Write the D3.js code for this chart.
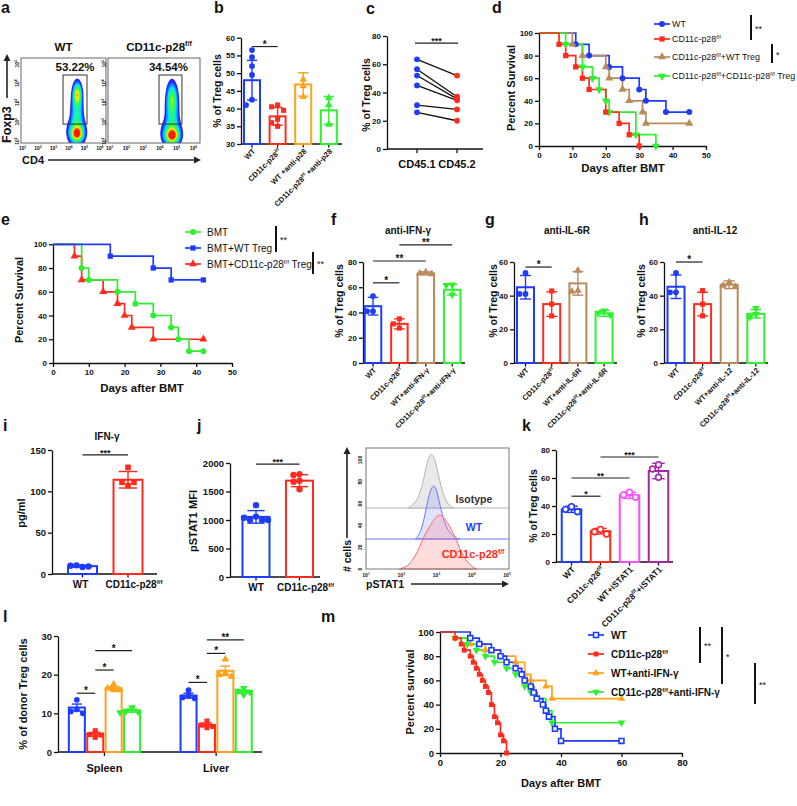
<!DOCTYPE html>
<html>
<head>
<meta charset="utf-8">
<script src="https://cdn.jsdelivr.net/npm/d3@7"></script>
<style>
  body { margin: 0; background: #fff; }
</style>
</head>
<body>
<svg id="fig" width="797" height="806"></svg>
<script>
const FONT = "'Liberation Sans', Arial, Helvetica, sans-serif";
const BLUE = "#1e3cff", RED = "#ff2c1e", ORANGE = "#ffa21c", GREEN = "#2ef02e",
      BROWN = "#b98a5c", MAG = "#ff4cff", PURP = "#a626a6", INK = "#111";

// ================= data =================
// a: flow plots (log10 units)
const flowTitles = ["WT", "CD11c-p28^{f/f}"];
const flowPct = ["53.22%", "34.54%"];
const flowDecades = [1, 2, 3, 4, 5, 6];
const flowYDecades = [1, 2, 3, 4, 5];
const flowGates = [[3.62, 5.17, 1.88, 4.42], [3.95, 5.32, 1.88, 4.42]];
// populations: [cd4, foxp3, sd cd4, sd foxp3, weight]
const flowPopsWT = [[4.52, 1.4, 0.2, 0.2, 1], [4.55, 3.4, 0.14, 0.3, 0.62], [4.52, 2.5, 0.21, 0.75, 0.25], [4.5, 1.5, 0.32, 0.4, 0.25]];
const flowPopsKO = [[4.73, 1.3, 0.2, 0.2, 1], [4.73, 3.2, 0.16, 0.4, 0.3], [4.73, 2.4, 0.21, 0.8, 0.25], [4.7, 1.4, 0.32, 0.4, 0.25]];

// b
const bNames = ["WT", "CD11c-p28^{f/f}", "WT +anti-p28", "CD11c-p28^{f/f} +anti-p28"];
const bMeans = [48, 37.8, 46.8, 39.5];
const bErr = [5.6, 2.5, 3.3, 3.9];
const bPts = [[56.5, 54.5, 52, 49.5, 42.5, 41], [41, 40.5, 39.5, 37, 36, 35], [48.2, 46.4, 43.3], [43, 41, 35.5]];
const bSig = [[0, 1, 57.5, "*"]];

// c
const cGroups = ["CD45.1", "CD45.2"];
const c451 = [63.5, 56.5, 52, 45, 31, 26];
const c452 = [52, 37, 35.5, 34.5, 28, 20];

// d  (day, % survival)
const dLegend = ["WT", "CD11c-p28^{f/f}", "CD11c-p28^{f/f}+WT Treg", "CD11c-p28^{f/f}+CD11c-p28^{f/f} Treg"];
const dWT = [[0, 100], [11, 90], [15, 80], [21, 70], [25, 60], [30, 50], [32, 40], [38, 30], [45, 30]];
const dKO = [[0, 100], [6, 90], [8, 80], [11, 70], [13, 60], [15, 50], [20, 30], [24, 20], [27, 10], [30, 0]];
const dWTTreg = [[0, 100], [10, 90], [13, 80], [20, 70], [21, 60], [25, 50], [27, 40], [31, 30], [32, 20], [45, 20]];
const dKOTreg = [[0, 100], [8, 90], [13, 70], [16, 60], [18, 50], [20, 40], [21, 30], [29, 10], [35, 0]];

// e
const eLegend = ["BMT", "BMT+WT Treg", "BMT+CD11c-p28^{f/f} Treg"];
const eBMT = [[0, 100], [8, 80], [10, 70], [18, 60], [23, 50], [28, 40], [33, 30], [35, 20], [38, 10], [42, 10]];
const eWTTreg = [[0, 100], [16, 90], [28, 80], [33, 70], [42, 70]];
const eKOTreg = [[0, 100], [6, 90], [8, 70], [14, 60], [18, 50], [20, 40], [22, 30], [28, 20], [42, 20]];

// f
const fNames = ["WT", "CD11c-p28^{f/f}", "WT+anti-IFN-γ", "CD11c-p28^{f/f}+anti-IFN-γ"];
const fMeans = [45, 31, 71, 58];
const fErr = [7, 4, 1.2, 4.2];
const fPts = [[53, 41, 41], [35, 31, 27.7], [72, 71, 70.5], [62, 61.5, 54]];
const fSig = [[0, 1, 63.5, "*"], [0, 2, 80.8, "**"], [1, 3, 93.5, "**"]];

// g
const gNames = ["WT", "CD11c-p28^{f/f}", "WT+anti-IL-6R", "CD11c-p28^{f/f}+anti-IL-6R"];
const gMeans = [45, 35, 47.3, 29.5];
const gErr = [7, 7.3, 7, 1.8];
const gPts = [[53.5, 41, 41], [42.8, 35, 28], [55, 43, 42.5], [31, 29.7, 28.5]];
const gSig = [[0, 1, 57, "*"]];

// h
const hNames = ["WT", "CD11c-p28^{f/f}", "WT+anti-IL-12", "CD11c-p28^{f/f}+anti-IL-12"];
const hMeans = [45.3, 35, 46.5, 29.2];
const hErr = [7, 7, 2.3, 2.5];
const hPts = [[53.5, 42, 42], [43, 35, 28], [48, 46, 45.3], [32.5, 29, 27.2]];
const hSig = [[0, 1, 60, "*"]];

// i
const iNames = ["WT", "CD11c-p28^{f/f}"];
const iMeans = [9.5, 114];
const iErr = [1, 10];
const iPts = [[8.5, 10.5, 9, 10], [107, 129, 111, 111]];

// j
const jNames = ["WT", "CD11c-p28^{f/f}"];
const jMeans = [1055, 1690];
const jErr = [110, 105];
const jPts = [[1260, 1060, 1000, 1000, 1040, 1000], [1805, 1790, 1690, 1670, 1540]];

// histogram (log10 pSTAT1, normalised count)
const histLabels = ["Isotype", "WT", "CD11c-p28^{f/f}"];
const histOffsets = [56, 27.5, 0];
const histIso = [[2.2, 0], [2.35, 3], [2.5, 10], [2.62, 24], [2.72, 40], [2.8, 48], [2.86, 50], [2.93, 47], [3.02, 36], [3.12, 20], [3.25, 7], [3.4, 1], [3.5, 0]];
const histWT = [[2.4, 0], [2.52, 4], [2.62, 14], [2.72, 30], [2.82, 45], [2.92, 50], [3.0, 46], [3.1, 31], [3.22, 15], [3.38, 5], [3.55, 1], [3.65, 0]];
const histKO = [[1.95, 0], [2.15, 2], [2.3, 7], [2.45, 15], [2.6, 27], [2.75, 36], [2.9, 44], [3.02, 49], [3.1, 50], [3.22, 47], [3.4, 38], [3.57, 26], [3.72, 14], [3.88, 6], [4.05, 1], [4.15, 0]];
const histDecades = [1, 2, 3, 4, 5];

// k
const kNames = ["WT", "CD11c-p28^{f/f}", "WT+iSTAT1", "CD11c-p28^{f/f}+iSTAT1"];
const kMeans = [37.6, 22, 47.6, 65];
const kErr = [2.2, 2, 2.2, 5.5];
const kPts = [[39.5, 37.6, 35.9], [23.3, 21.6, 20], [49.8, 47.9, 46.2], [69.5, 66.4, 60.5]];
const kSig = [[0, 1, 47, "*"], [0, 2, 60, "**"], [1, 3, 75, "***"]];

// l
const lTissues = ["Spleen", "Liver"];
const lConds = ["WT", "KO", "WT+IFN", "KO+IFN"];
const lMeans = [[11.5, 4.6, 16.5, 10.7], [14.6, 7, 21, 15.6]];
const lErr = [[0.9, 0.5, 0.4, 0.4], [0.6, 0.5, 1.2, 0.4]];
const lPts = [[[13.5, 11, 10.5, 10], [5.5, 4.5, 4.4, 3.8], [17.5, 16.5, 16, 16], [11.5, 10.6, 10.4, 10.2]],
              [[16, 14.5, 14.1, 13.9], [8, 7, 6.6, 6.3], [24, 20.5, 20, 19.5], [16.5, 15.8, 15.5, 14.8]]];
const lSig = [[0, 0, 1, 15.2, "*"], [0, 1, 2, 21.2, "*"], [0, 1, 3, 26.2, "*"], [1, 0, 1, 18, "*"], [1, 1, 2, 25.5, "*"], [1, 1, 3, 29, "**"]];

// m
const mLegend = ["WT", "CD11c-p28^{f/f}", "WT+anti-IFN-γ", "CD11c-p28^{f/f}+anti-IFN-γ"];
const mWT = [[0, 100], [10, 95], [13, 90], [17, 85], [20, 80], [22, 75], [25, 70], [27, 65], [28, 60], [30, 55], [31, 50], [32, 45], [34, 40], [35, 35], [36, 30], [38, 20], [40, 10], [60, 10]];
const mKO = [[0, 100], [5, 95], [7, 90], [8, 85], [10, 80], [11, 75], [12, 70], [13, 65], [14, 60], [15, 55], [16, 50], [17, 40], [18, 30], [19, 25], [20, 15], [21, 10], [22, 0]];
const mWTIFN = [[0, 100], [5, 95], [10, 90], [15, 85], [20, 80], [25, 75], [28, 65], [30, 60], [35, 55], [37, 45], [60, 45]];
const mKOIFN = [[0, 100], [5, 95], [9, 90], [12, 85], [15, 80], [18, 75], [22, 70], [25, 65], [28, 55], [30, 50], [32, 45], [35, 35], [37, 25], [60, 25]];

// ================= helpers =================
const svg = d3.select("#fig").attr("font-family", FONT);

// text with ^{..} superscripts
function rich(t, s, size) {
  const parts = s.split(/\^\{([^}]*)\}/);
  let prevSup = false;
  parts.forEach((p, i) => {
    if (p === "") return;
    const ts = t.append("tspan").text(p);
    if (i % 2 === 1) {
      ts.attr("font-size", size * 0.62).attr("dy", -size * 0.4);
      prevSup = true;
    } else if (prevSup) {
      ts.attr("dy", size * 0.4);
      prevSup = false;
    }
  });
}

function txt(g, x, y, s, o = {}) {
  const size = o.size || 10;
  const t = g.append("text").attr("x", x).attr("y", y).attr("font-size", size)
    .attr("font-weight", o.weight || "bold").attr("text-anchor", o.anchor || "start")
    .attr("fill", o.fill || INK);
  if (o.rotate) t.attr("transform", `rotate(${o.rotate},${x},${y})`);
  if (o.dy) t.attr("dy", o.dy);
  rich(t, s, size);
  return t;
}

function plabel(x, y, s) { txt(svg, x, y, s, { size: 16 }); }

function styleAxis(a, fs) {
  a.attr("font-family", FONT).attr("font-size", fs).attr("font-weight", "bold");
  a.selectAll("path,line").attr("stroke", INK).attr("stroke-width", 1.3);
  a.selectAll("text").attr("fill", INK);
}

function arrow(x1, y1, x2, y2, head = 7, hw = 3.5) {
  const a = Math.atan2(y2 - y1, x2 - x1), c = Math.cos(a), s = Math.sin(a);
  svg.append("line").attr("x1", x1).attr("y1", y1).attr("x2", x2 - c * head).attr("y2", y2 - s * head)
    .attr("stroke", "#222").attr("stroke-width", 1.6);
  const bx = x2 - c * head, by = y2 - s * head;
  svg.append("path").attr("d", `M${x2},${y2}L${bx - s * hw},${by + c * hw}L${bx + s * hw},${by - c * hw}Z`).attr("fill", "#222");
}

const SYM = { circle: d3.symbolCircle, square: d3.symbolSquare, tri: d3.symbolTriangle, triDown: d3.symbolTriangle };
function drawSym(g, shape, x, y, color, size, open) {
  g.append("path").attr("d", d3.symbol(SYM[shape], size)())
    .attr("transform", `translate(${x},${y})` + (shape === "triDown" ? " rotate(180)" : ""))
    .attr("fill", open ? "#fff" : color).attr("stroke", color).attr("stroke-width", open ? 1.6 : 0);
}

// simple deterministic swarm of points in a column
function swarm(ys, r) {
  const placed = [];
  return ys.map(py => {
    for (const c of [0, -1, 1, -2, 2, -3, 3]) {
      const px = c * 2 * r;
      if (placed.every(p => Math.hypot(p[0] - px, p[1] - py) >= 2 * r - 0.5)) { placed.push([px, py]); return px; }
    }
    return 0;
  });
}

function sigLine(g, x1, x2, y, label, fs = 10) {
  g.append("line").attr("x1", x1).attr("x2", x2).attr("y1", y).attr("y2", y).attr("stroke", "#222").attr("stroke-width", 1.2);
  txt(g, (x1 + x2) / 2, y + 1, label, { size: fs, anchor: "middle" });
}

function drawBar(g, cx, bw, y, mean, err, pts, color, shape, o = {}) {
  const y0 = y.range()[0];
  g.append("rect").attr("x", cx - bw / 2).attr("y", y(mean)).attr("width", bw).attr("height", y0 - y(mean))
    .attr("fill", "#fff").attr("stroke", color).attr("stroke-width", o.sw || 2);
  const cap = bw * 0.32;
  const eg = g.append("g").attr("stroke", color).attr("stroke-width", 1.4);
  eg.append("line").attr("x1", cx).attr("x2", cx).attr("y1", y(mean - err)).attr("y2", y(mean + err));
  [mean - err, mean + err].forEach(v => eg.append("line").attr("x1", cx - cap).attr("x2", cx + cap).attr("y1", y(v)).attr("y2", y(v)));
  const r = o.r || 3;
  const ys = pts.map(v => y(v));
  const offs = swarm(ys, r);
  ys.forEach((py, k) => drawSym(g, shape, cx + offs[k], py, color, o.size || 26, o.open));
}

function barPanel(cfg) {
  const g = svg.append("g");
  const n = cfg.names.length;
  const p = 1 - cfg.bw / cfg.step;
  const x = d3.scaleBand().domain(d3.range(n))
    .range([cfg.c0 - cfg.step / 2, cfg.c0 - cfg.step / 2 + n * cfg.step])
    .paddingInner(p).paddingOuter(p / 2);
  const cx = i => x(i) + x.bandwidth() / 2;
  const y = d3.scaleLinear().domain(cfg.domain).range(cfg.yRange);
  const y0 = cfg.yRange[0];
  const ya = g.append("g").attr("transform", `translate(${cfg.axisX},0)`)
    .call(d3.axisLeft(y).tickValues(cfg.ticks).tickSize(4).tickSizeOuter(0).tickPadding(2).tickFormat(d3.format("d")));
  styleAxis(ya, cfg.fs || 8);
  g.append("line").attr("x1", cfg.axisX).attr("x2", cfg.axisEnd).attr("y1", y0).attr("y2", y0).attr("stroke", INK).attr("stroke-width", 1.3);
  d3.range(n).forEach(i => g.append("line").attr("x1", cx(i)).attr("x2", cx(i)).attr("y1", y0).attr("y2", y0 + 3.5).attr("stroke", INK).attr("stroke-width", 1.3));
  d3.range(n).forEach(i => drawBar(g, cx(i), x.bandwidth(), y, cfg.means[i], cfg.errs[i], cfg.pts[i], cfg.colors[i], cfg.shapes[i], cfg.barOpt || {}));
  (cfg.sig || []).forEach(s => sigLine(g, cx(s[0]), cx(s[1]), y(s[2]), s[3], cfg.sigFs || 10));
  if (cfg.rot) {
    cfg.names.forEach((s, i) => txt(g, cx(i) + 2, y0 + 6, s, { size: cfg.lfs || 7.5, anchor: "end", rotate: -45, dy: "0.35em" }));
  } else {
    cfg.names.forEach((s, i) => txt(g, cx(i) + (cfg.lshift ? cfg.lshift[i] : 0), y0 + 14, s, { size: cfg.lfs || 10, anchor: "middle" }));
  }
  if (cfg.ylab) txt(g, cfg.ylab[0], cfg.ylab[1], cfg.ylab[2], { size: cfg.ylab[3] || 10.5, anchor: "middle", rotate: -90 });
  if (cfg.title) txt(g, cfg.title[0], cfg.title[1], cfg.title[2], { size: 10, anchor: "middle" });
  return { x, y, cx };
}

function kmPanel(cfg) {
  const g = svg.append("g");
  const { x, y } = cfg;
  const ya = g.append("g").attr("transform", `translate(${x.range()[0]},0)`)
    .call(d3.axisLeft(y).tickValues(cfg.yTicks).tickSize(4).tickSizeOuter(0).tickPadding(2));
  const xa = g.append("g").attr("transform", `translate(0,${y.range()[0]})`)
    .call(d3.axisBottom(x).tickValues(cfg.xTicks).tickSize(4).tickSizeOuter(0).tickPadding(2));
  styleAxis(ya, cfg.fs); styleAxis(xa, cfg.fs);
  const line = d3.line().x(d => x(d[0])).y(d => y(d[1])).curve(d3.curveStepAfter);
  cfg.series.forEach(s => {
    g.append("path").attr("d", line(s.data)).attr("fill", "none").attr("stroke", s.color).attr("stroke-width", 1.7);
  });
  cfg.series.forEach(s => {
    s.data.slice(1).forEach(d => drawSym(g, s.shape, x(d[0]), y(d[1]), s.color, cfg.ms || 28, s.open));
  });
  // legend
  const L = cfg.legend;
  cfg.series.forEach((s, i) => {
    const yy = L.ys[i];
    g.append("line").attr("x1", L.x0).attr("x2", L.x1).attr("y1", yy).attr("y2", yy).attr("stroke", s.color).attr("stroke-width", 1.7);
    drawSym(g, s.shape, (L.x0 + L.x1) / 2, yy, s.color, cfg.ms || 28, s.open);
    txt(g, L.tx, yy, L.labels[i], { size: L.fs, weight: L.weight || "normal", dy: "0.36em" });
  });
  return g;
}

function vbar(x, y1, y2, label, fs = 9) {
  svg.append("line").attr("x1", x).attr("x2", x).attr("y1", y1).attr("y2", y2).attr("stroke", "#111").attr("stroke-width", 2);
  txt(svg, x + 4, (y1 + y2) / 2 + 4, label, { size: fs, weight: "normal" });
}

// ================= a =================
plabel(1, 13, "a");
function flowPlot(i, bx0, bx1, pops) {
  const by0 = 58, by1 = 143;
  const g = svg.append("g");
  const xs = d3.scaleLinear().domain([0.9, 6.4]).range([bx0, bx1]);
  const ys = d3.scaleLinear().domain([0.9, 5.3]).range([by1, by0]);
  const w = Math.round(bx1 - bx0), h = by1 - by0;
  const vals = new Float64Array(w * h);
  for (let r = 0; r < h; r++) for (let c = 0; c < w; c++) {
    const lx = xs.invert(bx0 + c + 0.5), ly = ys.invert(by0 + r + 0.5);
    let v = 0;
    pops.forEach(p => { v += p[4] * Math.exp(-0.5 * ((lx - p[0]) / p[2]) ** 2 - 0.5 * ((ly - p[1]) / p[3]) ** 2); });
    vals[c + r * w] = v;
  }
  const th = [0.03, 0.07, 0.13, 0.21, 0.3, 0.42, 0.56, 0.7, 0.85];
  const jet = d3.scaleLinear().domain([0, 0.25, 0.5, 0.75, 1]).range(["#2424ff", "#00e0ff", "#3cff3c", "#ffee00", "#ff1a00"]);
  const cont = d3.contours().size([w, h]).thresholds(th)(Array.from(vals));
  g.append("g").attr("transform", `translate(${bx0},${by0})`)
    .selectAll("path").data(cont).join("path")
    .attr("d", d3.geoPath()).attr("fill", (d, k) => jet(k / (th.length - 1)));
  g.append("rect").attr("x", bx0).attr("y", by0).attr("width", bx1 - bx0).attr("height", h)
    .attr("fill", "none").attr("stroke", "#666").attr("stroke-width", 1);
  const gt = flowGates[i];
  g.append("rect").attr("x", xs(gt[0])).attr("y", ys(gt[3])).attr("width", xs(gt[1]) - xs(gt[0]))
    .attr("height", ys(gt[2]) - ys(gt[3])).attr("fill", "none").attr("stroke", "#333").attr("stroke-width", 1);
  flowDecades.forEach(e => txt(g, xs(e), 150, "10^{" + e + "}", { size: 5, anchor: "middle" }));
  flowYDecades.forEach(e => txt(g, bx0 - 2, ys(e), "10^{" + e + "}", { size: 5, anchor: "middle", rotate: -90 }));
  txt(g, (bx0 + bx1) / 2 + (i ? 5 : 0), 51, flowTitles[i], { size: 11.5, anchor: "middle" });
  txt(g, (xs(gt[0]) + xs(gt[1])) / 2 + (i ? -2 : 0), 71, flowPct[i], { size: 11.5, anchor: "middle" });
}
flowPlot(0, 21, 106, flowPopsWT);
flowPlot(1, 108, 200, flowPopsKO);
txt(svg, 10.5, 143, "Foxp3", { size: 12.5, rotate: -90 });
arrow(7, 98, 7, 54);
txt(svg, 22, 164, "CD4", { size: 11 });
arrow(48, 160, 201, 160);

// ================= b =================
plabel(214, 13, "b");
barPanel({
  names: bNames, means: bMeans, errs: bErr, pts: bPts,
  colors: [BLUE, RED, ORANGE, GREEN], shapes: ["circle", "square", "tri", "tri"],
  c0: 252, step: 25.6, bw: 16, axisX: 241, axisEnd: 342,
  domain: [30, 60], yRange: [144, 37.7], ticks: d3.range(30, 61, 5),
  sig: bSig, rot: true, lfs: 7.5, ylab: [221, 91, "% of Treg cells"]
});

// ================= c =================
plabel(366, 14, "c");
{
  const g = svg.append("g");
  const y = d3.scaleLinear().domain([0, 80]).range([149, 36]);
  const x = d3.scalePoint().domain(cGroups).range([397, 477]).padding(0.5);
  const ya = g.append("g").attr("transform", "translate(387,0)")
    .call(d3.axisLeft(y).tickValues([0, 20, 40, 60, 80]).tickSize(4).tickSizeOuter(0).tickPadding(2));
  styleAxis(ya, 8);
  g.append("line").attr("x1", 387).attr("x2", 483).attr("y1", 149).attr("y2", 149).attr("stroke", INK).attr("stroke-width", 1.3);
  cGroups.forEach(c => g.append("line").attr("x1", x(c)).attr("x2", x(c)).attr("y1", 149).attr("y2", 153).attr("stroke", INK).attr("stroke-width", 1.3));
  c451.forEach((v, k) => g.append("line").attr("x1", x("CD45.1")).attr("x2", x("CD45.2"))
    .attr("y1", y(v)).attr("y2", y(c452[k])).attr("stroke", "#111").attr("stroke-width", 1.3));
  c451.forEach(v => drawSym(g, "circle", x("CD45.1"), y(v), BLUE, 26));
  c452.forEach(v => drawSym(g, "circle", x("CD45.2"), y(v), RED, 26));
  cGroups.forEach(c => txt(g, x(c), 167.5, c, { size: 11, anchor: "middle" }));
  sigLine(g, x("CD45.1") - 2, x("CD45.2") + 1, y(75), "***", 9);
  txt(g, 370, 95, "% of Treg cells", { size: 10.5, anchor: "middle", rotate: -90 });
}

// ================= d =================
plabel(492, 13, "d");
kmPanel({
  x: d3.scaleLinear().domain([0, 50]).range([539, 706]),
  y: d3.scaleLinear().domain([0, 100]).range([146, 33]),
  xTicks: [0, 10, 20, 30, 40, 50], yTicks: [0, 20, 40, 60, 80, 100], fs: 8,
  series: [
    { data: dWT, color: BLUE, shape: "circle" },
    { data: dWTTreg, color: BROWN, shape: "tri" },
    { data: dKOTreg, color: GREEN, shape: "triDown" },
    { data: dKO, color: RED, shape: "square" }
  ],
  legend: { x0: 654, x1: 670, tx: 672, ys: [24, 57, 76, 39], fs: 8.9,
    labels: [dLegend[0], dLegend[2], dLegend[3], dLegend[1]] }
});
txt(svg, 623, 172, "Days after BMT", { size: 11.5, anchor: "middle" });
txt(svg, 515, 88, "Percent Survival", { size: 11, anchor: "middle", rotate: -90 });
vbar(751, 15, 40, "**");
vbar(772, 44, 63, "*");

// ================= e =================
plabel(1, 225, "e");
kmPanel({
  x: d3.scaleLinear().domain([0, 50]).range([53, 232]),
  y: d3.scaleLinear().domain([0, 100]).range([363, 244.3]),
  xTicks: [0, 10, 20, 30, 40, 50], yTicks: [0, 20, 40, 60, 80, 100], fs: 8,
  series: [
    { data: eKOTreg, color: RED, shape: "tri" },
    { data: eBMT, color: GREEN, shape: "circle" },
    { data: eWTTreg, color: BLUE, shape: "square" }
  ],
  legend: { x0: 185, x1: 201, tx: 207, ys: [264, 232, 248], fs: 10,
    labels: [eLegend[2], eLegend[0], eLegend[1]] }
});
txt(svg, 142, 392, "Days after BMT", { size: 11.5, anchor: "middle" });
txt(svg, 23, 300, "Percent Survival", { size: 11, anchor: "middle", rotate: -90 });
vbar(276, 226, 252, "**");
vbar(313, 252, 274, "**");

// ================= f, g, h =================
plabel(331, 225, "f");
barPanel({
  names: fNames, means: fMeans, errs: fErr, pts: fPts,
  colors: [BLUE, RED, BROWN, GREEN], shapes: ["circle", "square", "tri", "triDown"],
  c0: 373, step: 26.4, bw: 16.5, axisX: 363, axisEnd: 465,
  domain: [0, 80], yRange: [363, 262], ticks: [0, 20, 40, 60, 80],
  sig: fSig, rot: true, lfs: 7.5, ylab: [343, 301, "% of Treg cells"],
  title: [408, 234, "anti-IFN-γ"]
});
plabel(485, 225, "g");
barPanel({
  names: gNames, means: gMeans, errs: gErr, pts: gPts,
  colors: [BLUE, RED, BROWN, GREEN], shapes: ["circle", "square", "tri", "triDown"],
  c0: 525.5, step: 26.2, bw: 17, axisX: 514, axisEnd: 617,
  domain: [0, 60], yRange: [363, 262], ticks: [0, 20, 40, 60],
  sig: gSig, rot: true, lfs: 7.5, ylab: [497, 301, "% of Treg cells"],
  title: [567, 234, "anti-IL-6R"]
});
plabel(639, 225, "h");
barPanel({
  names: hNames, means: hMeans, errs: hErr, pts: hPts,
  colors: [BLUE, RED, BROWN, GREEN], shapes: ["circle", "square", "tri", "triDown"],
  c0: 676, step: 26.6, bw: 17, axisX: 664, axisEnd: 768,
  domain: [0, 60], yRange: [363, 262], ticks: [0, 20, 40, 60],
  sig: hSig, rot: true, lfs: 7.5, ylab: [645, 301, "% of Treg cells"],
  title: [715, 234, "anti-IL-12"]
});

// ================= i, j =================
plabel(3, 431, "i");
barPanel({
  names: iNames, means: iMeans, errs: iErr, pts: iPts,
  colors: [BLUE, RED], shapes: ["circle", "square"],
  c0: 82.5, step: 45.5, bw: 29, axisX: 52, axisEnd: 157,
  domain: [0, 150], yRange: [574, 450], ticks: [0, 50, 100, 150], fs: 9.5,
  sig: [[0, 1, 144, "***"]], sigFs: 9, lfs: 10, lshift: [-2, 6],
  ylab: [25, 513, "pg/ml", 11], title: [107, 440, "IFN-γ"], barOpt: { size: 32 }
});
plabel(197, 431, "j");
barPanel({
  names: jNames, means: jMeans, errs: jErr, pts: jPts,
  colors: [BLUE, RED], shapes: ["circle", "circle"],
  c0: 256, step: 43.5, bw: 27, axisX: 230, axisEnd: 320,
  domain: [0, 2000], yRange: [577, 463], ticks: [0, 500, 1000, 1500, 2000], fs: 9.5,
  sig: [[0, 1, 1982, "***"]], sigFs: 9, lfs: 10, lshift: [0, 6],
  ylab: [197, 521, "pSTAT1 MFI", 11], barOpt: { size: 32 }
});

// ================= histogram =================
{
  const g = svg.append("g");
  const hx = d3.scaleLinear().domain([1, 5]).range([366, 507]);
  const hy = d3.scaleLinear().domain([0, 100]).range([569, 460]);
  const series = [histIso, histWT, histKO];
  const fills = ["#e9e9e9", "rgba(120,130,255,0.22)", "rgba(255,120,120,0.25)"];
  const strokes = ["#b4b4b4", "#6b78ff", "#ff6666"];
  series.forEach((s, k) => {
    const off = histOffsets[k];
    if (off > 0) g.append("line").attr("x1", 366).attr("x2", 509).attr("y1", hy(off)).attr("y2", hy(off)).attr("stroke", strokes[k]).attr("stroke-width", 1);
    const area = d3.area().x(d => hx(d[0])).y0(hy(off)).y1(d => hy(off + d[1])).curve(d3.curveBasis);
    g.append("path").attr("d", area(s)).attr("fill", fills[k]).attr("stroke", strokes[k]).attr("stroke-width", 1);
  });
  g.append("rect").attr("x", 366).attr("y", 448).attr("width", 143).attr("height", 121).attr("fill", "none").attr("stroke", "#777").attr("stroke-width", 1);
  histDecades.forEach(e => txt(g, hx(e), 577, "10^{" + e + "}", { size: 5, anchor: "middle" }));
  [0, 20, 40, 60, 80, 100].forEach(v => txt(g, 362, hy(v), String(v), { size: 5, anchor: "middle", rotate: -90 }));
  txt(g, 474, 503, histLabels[0], { size: 10.5, anchor: "middle", fill: "#333" });
  txt(g, 474, 531, histLabels[1], { size: 10.5, anchor: "middle", fill: BLUE });
  txt(g, 473, 558, histLabels[2], { size: 11, anchor: "middle", fill: RED });
  txt(svg, 351, 556, "# cells", { size: 10.5, anchor: "middle", rotate: -90 });
  arrow(347, 538, 347, 447);
  txt(svg, 366, 588, "pSTAT1", { size: 10.5 });
  arrow(411, 584, 509, 584);
}

// ================= k =================
plabel(522, 431, "k");
barPanel({
  names: kNames, means: kMeans, errs: kErr, pts: kPts,
  colors: [BLUE, RED, MAG, PURP], shapes: ["circle", "circle", "circle", "circle"],
  c0: 571.5, step: 29, bw: 19.5, axisX: 556, axisEnd: 673,
  domain: [0, 80], yRange: [562, 450], ticks: [0, 20, 40, 60, 80],
  sig: kSig, sigFs: 9, rot: true, lfs: 8.5, ylab: [537, 506, "% of Treg cells"],
  barOpt: { open: true, size: 26 }
});

// ================= l =================
plabel(3, 622, "l");
{
  const g = svg.append("g");
  const y = d3.scaleLinear().domain([0, 30]).range([752, 636]);
  const outer = d3.scaleBand().domain(lTissues).range([58.7, 261.9]).paddingInner(0.341).paddingOuter(0.08);
  const inner = d3.scaleBand().domain(lConds).range([0, outer.bandwidth()]).paddingInner(0.13).paddingOuter(0.065);
  const cx = (t, c) => outer(lTissues[t]) + inner(lConds[c]) + inner.bandwidth() / 2;
  const ya = g.append("g").attr("transform", "translate(58,0)")
    .call(d3.axisLeft(y).tickValues([0, 10, 20, 30]).tickSize(4).tickSizeOuter(0).tickPadding(2));
  styleAxis(ya, 9.5);
  g.append("line").attr("x1", 58).attr("x2", 262).attr("y1", 752).attr("y2", 752).attr("stroke", INK).attr("stroke-width", 1.3);
  const colors = [BLUE, RED, ORANGE, GREEN], shapes = ["circle", "square", "tri", "triDown"];
  lTissues.forEach((t, ti) => {
    const mid = outer(t) + outer.bandwidth() / 2;
    g.append("line").attr("x1", mid).attr("x2", mid).attr("y1", 752).attr("y2", 756).attr("stroke", INK).attr("stroke-width", 1.3);
    lConds.forEach((c, ci) => drawBar(g, cx(ti, ci), inner.bandwidth(), y, lMeans[ti][ci], lErr[ti][ci], lPts[ti][ci], colors[ci], shapes[ci], { size: 26 }));
    txt(g, mid, 772, t, { size: 11, anchor: "middle" });
  });
  lSig.forEach(s => sigLine(g, cx(s[0], s[1]), cx(s[0], s[2]), y(s[3]), s[4], 10));
  txt(g, 27, 694, "% of donor Treg cells", { size: 11, anchor: "middle", rotate: -90 });
}

// ================= m =================
plabel(321, 622, "m");
kmPanel({
  x: d3.scaleLinear().domain([0, 80]).range([440, 682]),
  y: d3.scaleLinear().domain([0, 100]).range([753, 632]),
  xTicks: [0, 20, 40, 60, 80], yTicks: [0, 20, 40, 60, 80, 100], fs: 9.5,
  series: [
    { data: mWTIFN, color: ORANGE, shape: "tri" },
    { data: mKOIFN, color: GREEN, shape: "triDown" },
    { data: mWT, color: BLUE, shape: "square", open: true },
    { data: mKO, color: RED, shape: "square" }
  ],
  ms: 24,
  legend: { x0: 588, x1: 604, tx: 611, ys: [673, 692, 635, 654], fs: 10, weight: "bold",
    labels: [mLegend[2], mLegend[3], mLegend[0], mLegend[1]] }
});
txt(svg, 561, 787, "Days after BMT", { size: 11, anchor: "middle" });
txt(svg, 414, 692, "Percent survival", { size: 11, anchor: "middle", rotate: -90 });
vbar(700, 627, 663, "**");
vbar(722, 627, 684, "*");
vbar(755, 663, 704, "**");
</script>
</body>
</html>
